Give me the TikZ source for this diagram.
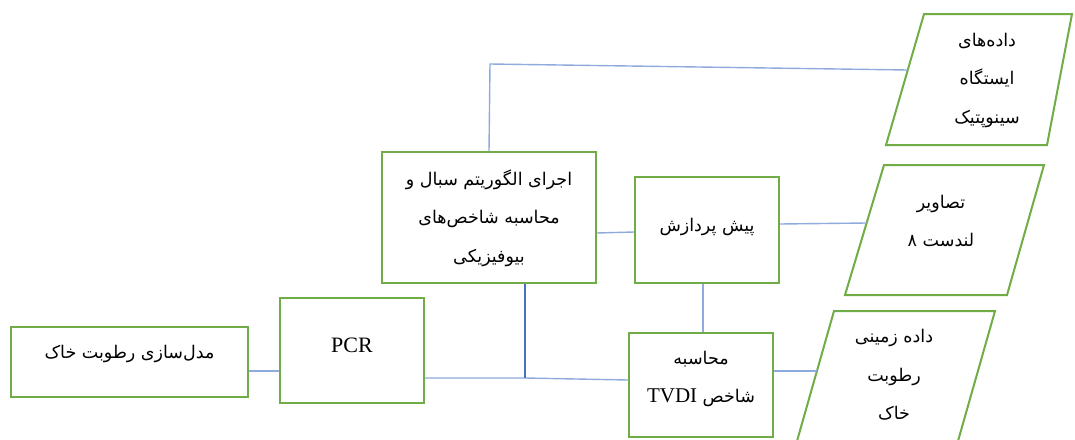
\documentclass[tikz,border=0pt]{standalone}
\usepackage{fontspec}
\setmainfont{Liberation Serif}
\newfontfamily\fa[Script=Arabic]{DejaVu Sans}
\TeXXeTstate=1
\definecolor{boxgreen}{HTML}{70AD47}
\definecolor{linkblue}{HTML}{8FAADC}
\definecolor{darkblue}{HTML}{4472C4}
\tikzset{
  box/.style={draw=boxgreen, line width=2pt, rectangle, inner sep=0pt},
  para/.style={draw=boxgreen, line width=2pt, line join=miter},
  fatext/.style={font=\fa\fontsize{17.5}{38.5}\selectfont, align=center, inner sep=0pt},
  latext/.style={font=\fontsize{22}{38}\selectfont, inner sep=0pt},
  link/.style={draw=linkblue, line width=1.4pt},
  darklink/.style={draw=darkblue, line width=1.1pt}
}
\begin{document}
\begin{tikzpicture}[x=1pt,y=-1pt]
\useasboundingbox (0,0) rectangle (1075,439);
% rectangular boxes
\node[box, minimum width=237pt, minimum height=70pt] (soil) at (129.5,362) {};
\node[box, minimum width=144pt, minimum height=105pt] (pcr) at (352,350.5) {};
\node[box, minimum width=214pt, minimum height=131pt] (algo) at (489,217.5) {};
\node[box, minimum width=144pt, minimum height=106pt] (pp) at (707,230) {};
\node[box, minimum width=144pt, minimum height=104pt] (tvdi) at (701,385) {};
% parallelograms
\draw[para] (924,14) -- (1072,14) -- (1047,145) -- (886,145) -- cycle;
\draw[para] (884,165) -- (1044,165) -- (1007,295) -- (845,295) -- cycle;
\draw[para] (797,441) -- (834,311) -- (995,311) -- (958,441);
% texts
\node[fatext] (soilT) at (129.5,354) {\beginR مدل‌سازی رطوبت خاک\endR};
\node[latext] (pcrT) at (352,345) {PCR};
\node[fatext] (algoT) at (489,218) {\beginR اجرای الگوریتم سبال و\endR\\\beginR محاسبه شاخص‌های\endR\\\beginR بیوفیزیکی\endR};
\node[fatext] (ppT) at (707,227) {\beginR پیش پردازش\endR};
\node[fatext] (tvdiT) at (701,379) {\beginR محاسبه\endR\\\beginR شاخص \beginL{\rmfamily\fontsize{21}{38}\selectfont TVDI}\endL\endR};
\node[fatext] (synT) at (987,80) {\beginR داده‌های\endR\\\beginR ایستگاه\endR\\\beginR سینوپتیک\endR};
\node[fatext] (lsT) at (941,221) {\beginR تصاویر\endR\\\beginR لندست ۸\endR};
\node[fatext] (grT) at (894,375) {\beginR داده زمینی\endR\\\beginR رطوبت\endR\\\beginR خاک\endR};
% connector points
\coordinate (tl) at (490,64);
\coordinate (synL) at (907.5,70);
\coordinate (lsL) at (866.5,223);
\coordinate (grL) at (816.5,371);
\coordinate (j) at (525,378);
% connectors
\draw[link] (algo.north) -- (tl) -- (synL);
\draw[link] ([yshift=-15.5pt]algo.east) -- ([yshift=-2pt]pp.west);
\draw[link] ([yshift=6pt]pp.east) -- (lsL);
\draw[link] ([xshift=-4pt]pp.south) -- ([xshift=2pt]tvdi.north);
\draw[link] ([yshift=14pt]tvdi.east) -- (grL);
\draw[link] ([yshift=-27.5pt]pcr.east) -- (j) -- ([yshift=5pt]tvdi.west);
\draw[darklink] (j |- algo.south) -- (j);
\draw[link] ([yshift=-9pt]soil.east) -- ([yshift=-20.5pt]pcr.west);
\end{tikzpicture}
\end{document}
